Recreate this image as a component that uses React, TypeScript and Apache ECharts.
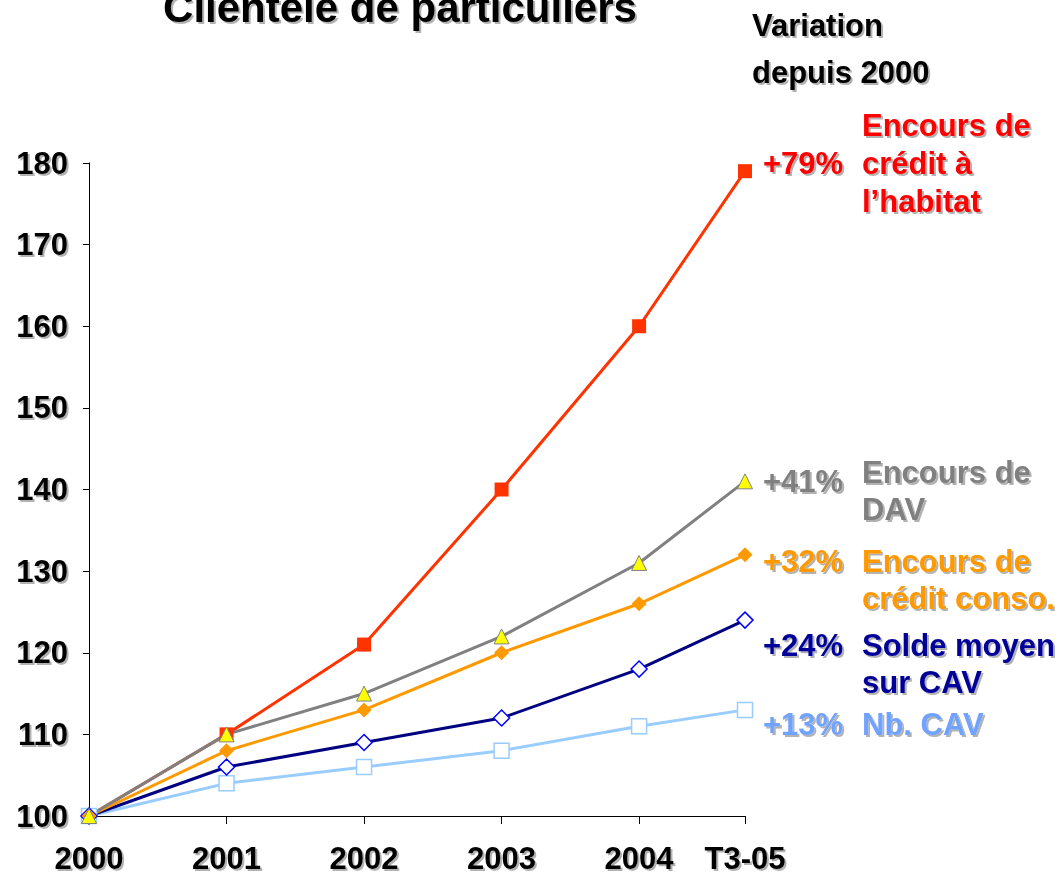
import React, { useEffect, useRef } from "react";
import * as echarts from "echarts";

const xPositions = [0, 1, 2, 3, 4, 4.77];
const xLabels = ["2000", "2001", "2002", "2003", "2004", "T3-05"];

const habitat = [100, 110, 121, 140, 160, 179];
const dav = [100, 110, 115, 122, 131, 141];
const conso = [100, 108, 113, 120, 126, 132];
const soldeCav = [100, 106, 109, 112, 118, 124];
const nbCav = [100, 104, 106, 108, 111, 113];

const yTicks = [100, 110, 120, 130, 140, 150, 160, 170, 180];

const FONT = "'Liberation Sans', Arial, sans-serif";
const shadow = {
  textShadowColor: "rgba(0,0,0,0.3)",
  textShadowOffsetX: 2,
  textShadowOffsetY: 2,
  textShadowBlur: 1,
};

function pts(vals: number[]) {
  return vals.map((v, i) => [xPositions[i], v]);
}
function pct(vals: number[]) {
  return "+" + Math.round(vals[vals.length - 1] - vals[0]) + "%";
}

export default function App() {
  const ref = useRef<HTMLDivElement>(null);
  useEffect(() => {
    if (!ref.current) return;
    const chart = echarts.init(ref.current, null, { renderer: "svg" });
    const txt = (text: string, x: number, y: number, color: string, size = 31, align = "left") => ({
      type: "text",
      x,
      y,
      style: {
        text,
        fill: color,
        font: `bold ${size}px ${FONT}`,
        align,
        verticalAlign: "middle",
        ...shadow,
      },
    });
    const labels = [
      { vals: habitat, color: "#FF0000", y: 163, lines: ["Encours de", "crédit à", "l’habitat"], y0: 125, lh: 38 },
      { vals: dav, color: "#808080", y: 481, lines: ["Encours de", "DAV"], y0: 472, lh: 37 },
      { vals: conso, color: "#FF9900", y: 561, lines: ["Encours de", "crédit conso."], y0: 561, lh: 37 },
      { vals: soldeCav, color: "#000099", y: 645, lines: ["Solde moyen", "sur CAV"], y0: 645, lh: 37 },
      { vals: nbCav, color: "#6FA3FF", y: 724, lines: ["Nb. CAV"], y0: 724, lh: 37 },
    ];
    const graphics: any[] = [
      txt("Clientèle de particuliers", 400, 7, "#000000", 42, "center"),
      txt("Variation", 752, 25, "#000000"),
      txt("depuis 2000", 752, 72, "#000000"),
    ];
    labels.forEach((l) => {
      graphics.push(txt(pct(l.vals), 763, l.y, l.color));
      l.lines.forEach((s, i) => graphics.push(txt(s, 862, l.y0 + i * l.lh, l.color)));
    });

    const line = (name: string, data: number[], color: string, symbol: string, size: number, itemStyle: any) => ({
      name,
      type: "line",
      data: pts(data),
      clip: false,
      symbol,
      symbolSize: size,
      showAllSymbol: true,
      lineStyle: { color, width: 3 },
      itemStyle,
      z: 2,
    });

    chart.setOption({
      animation: false,
      backgroundColor: "#ffffff",
      grid: { left: 89, right: 318, top: 163, bottom: 59, containLabel: false },
      xAxis: {
        type: "value",
        min: 0,
        max: xPositions[xPositions.length - 1],
        axisLine: { show: true, lineStyle: { color: "#000", width: 1 } },
        axisTick: { show: true, length: 8, customValues: xPositions, lineStyle: { color: "#000" } },
        splitLine: { show: false },
        axisLabel: {
          customValues: xPositions,
          formatter: (v: number) => {
            const i = xPositions.findIndex((p) => Math.abs(p - v) < 1e-6);
            return i >= 0 ? xLabels[i] : "";
          },
          margin: 27,
          color: "#000",
          fontFamily: FONT,
          fontWeight: "bold",
          fontSize: 31,
          ...shadow,
        },
      },
      yAxis: {
        type: "value",
        min: yTicks[0],
        max: yTicks[yTicks.length - 1],
        interval: 10,
        axisLine: { show: true, lineStyle: { color: "#000", width: 1 } },
        axisTick: { show: true, length: 6, lineStyle: { color: "#000" } },
        splitLine: { show: false },
        axisLabel: {
          margin: 21,
          color: "#000",
          fontFamily: FONT,
          fontWeight: "bold",
          fontSize: 31,
          ...shadow,
        },
      },
      series: [
        line("Encours de crédit à l’habitat", habitat, "#FF3300", "rect", 14, { color: "#FF3300" }),
        line("Nb. CAV", nbCav, "#99CCFF", "rect", 15, { color: "#ffffff", borderColor: "#99CCFF", borderWidth: 1.5 }),
        line("Solde moyen sur CAV", soldeCav, "#000080", "diamond", 16, { color: "#ffffff", borderColor: "#0000FF", borderWidth: 1.5 }),
        line("Encours de crédit conso.", conso, "#FF9900", "diamond", 15, { color: "#FF9900" }),
        line("Encours de DAV", dav, "#808080", "triangle", 15, { color: "#FFFF00", borderColor: "#808080", borderWidth: 1 }),
      ],
      graphic: graphics,
    });
    return () => chart.dispose();
  }, []);
  return (
    <div
      ref={ref}
      style={{ position: "absolute", left: 0, top: 0, width: 1063, height: 875 }}
    />
  );
}
